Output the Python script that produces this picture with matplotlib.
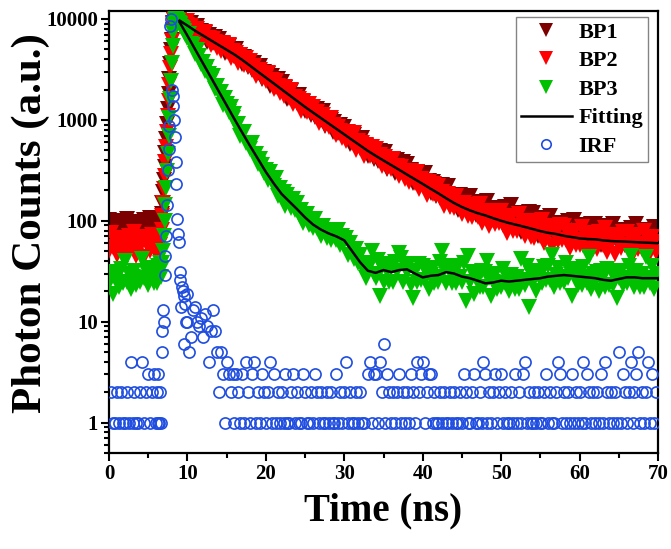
import numpy as np
import matplotlib
matplotlib.use("Agg")
import matplotlib.pyplot as plt
from matplotlib import ticker

plt.rcParams['font.family'] = ['Liberation Serif', 'DejaVu Serif']
plt.rcParams['font.weight'] = 'bold'

# Channel grid (ns): baseline 0-6 ns, finely sampled rising edge 6-10 ns, decay 10-70 ns
t_pre = np.arange(24) * 0.25
t_rise = 6.0 + np.arange(40) * 0.1
t_decay = 10.0 + np.arange(240) * 0.25
time_ns = np.concatenate([t_pre, t_rise, t_decay])

# ---- BP1 photon counts ----
bp1_pre = [103, 83, 95, 73, 90, 99, 78, 86,
           80, 105, 85, 93, 75, 97, 90, 76,
           93, 76, 101, 88, 81, 107, 73, 95]
bp1_rise = [92, 78, 101, 84, 96, 103, 99, 118, 150, 195,
            255, 340, 470, 650, 910, 1280, 1800, 2550, 3600, 4900,
            6150, 7750, 9050, 9780, 10000, 9960, 9900, 9820, 9760, 9690,
            9610, 9530, 9440, 9350, 9270, 9160, 9060, 8960, 8850, 8740]
bp1_decay = [9186, 7899, 9075, 8094, 7485, 8614, 6680, 7596,
             6881, 7276, 5904, 6952, 6476, 5797, 6594, 5626,
             6350, 5299, 5692, 4620, 5170, 5399, 4438, 4634,
             4262, 5028, 4180, 4348, 3614, 4195, 3835, 3318,
             3690, 3103, 3647, 3196, 2923, 3437, 2549, 2957,
             2620, 2833, 2156, 2695, 2447, 2115, 2518, 2039,
             2354, 1907, 2063, 1621, 1839, 1927, 1536, 1611,
             1461, 1768, 1434, 1501, 1217, 1452, 1320, 1126,
             1281, 1057, 1282, 1110, 1009, 1224, 875, 1045,
             921, 997, 760, 952, 866, 750, 896, 727,
             855, 679, 746, 572, 664, 704, 550, 583,
             526, 656, 522, 553, 440, 539, 489, 412,
             479, 390, 489, 419, 380, 476, 328, 404,
             369, 414, 299, 400, 360, 304, 384, 301,
             364, 284, 318, 239, 285, 305, 235, 252,
             225, 297, 228, 247, 189, 244, 218, 177,
             220, 171, 226, 187, 167, 221, 141, 182,
             159, 181, 128, 179, 162, 135, 178, 137,
             175, 136, 154, 114, 140, 154, 117, 128,
             116, 156, 120, 132, 102, 134, 121, 99,
             125, 94, 136, 110, 97, 143, 83, 119,
             99, 120, 77, 119, 106, 86, 123, 89,
             119, 86, 104, 71, 94, 106, 75, 87,
             76, 111, 80, 92, 67, 95, 85, 67,
             89, 67, 99, 79, 71, 103, 61, 86,
             73, 89, 57, 90, 80, 66, 94, 69,
             94, 69, 83, 57, 76, 88, 61, 70,
             63, 93, 67, 77, 57, 82, 73, 58,
             77, 58, 85, 70, 63, 93, 54, 78,
             66, 81, 52, 82, 73, 60, 86, 63]

# ---- BP2 photon counts ----
bp2_pre = [50, 75, 55, 63, 46, 67, 60, 48,
           63, 48, 71, 58, 52, 77, 45, 65,
           55, 67, 44, 69, 61, 50, 73, 53]
bp2_rise = [55, 70, 48, 62, 72, 57, 68, 82, 112, 150,
            205, 280, 385, 540, 765, 1085, 1550, 2240, 3240, 4480,
            6080, 7680, 8990, 9740, 10000, 9980, 9900, 9850, 9780, 9700,
            9600, 9520, 9420, 9300, 9220, 9100, 9010, 8890, 8800, 8700]
bp2_decay = [9469, 8053, 8495, 7057, 7717, 7977, 6724, 6946,
             6448, 7409, 6307, 6511, 5575, 6345, 5885, 5202,
             5747, 4866, 5761, 5085, 4683, 5540, 4135, 4828,
             4316, 4619, 3628, 4404, 4035, 3538, 4109, 3405,
             3844, 3185, 3396, 2737, 3042, 3157, 2579, 2676,
             2423, 2934, 2381, 2493, 2024, 2409, 2184, 1858,
             2108, 1737, 2103, 1817, 1648, 1995, 1423, 1694,
             1489, 1609, 1224, 1529, 1387, 1202, 1434, 1166,
             1347, 1094, 1186, 934, 1062, 1115, 891, 936,
             851, 1033, 839, 881, 716, 854, 777, 662,
             757, 614, 764, 653, 589, 735, 506, 620,
             539, 593, 438, 567, 511, 438, 538, 429,
             509, 406, 449, 346, 403, 430, 337, 358,
             325, 408, 326, 347, 277, 340, 308, 260,
             305, 242, 313, 265, 238, 306, 205, 258,
             223, 250, 180, 241, 217, 184, 231, 181,
             223, 169, 192, 139, 169, 184, 137, 149,
             133, 177, 137, 150, 116, 151, 136, 111,
             137, 108, 143, 121, 109, 146, 95, 124,
             108, 124, 88, 123, 111, 93, 123, 95,
             125, 91, 109, 75, 98, 111, 79, 89,
             79, 116, 84, 96, 70, 99, 87, 69,
             90, 67, 99, 80, 71, 103, 60, 86,
             72, 86, 56, 88, 77, 63, 90, 65,
             89, 64, 78, 54, 71, 80, 57, 65,
             58, 86, 62, 72, 53, 76, 67, 53,
             71, 53, 78, 64, 57, 85, 49, 70,
             60, 72, 47, 73, 66, 54, 78, 57,
             78, 57, 68, 47, 63, 72, 52, 59,
             53, 79, 57, 65, 48, 69, 62, 49]

# ---- BP3 photon counts ----
bp3_pre = [24, 30, 19, 31, 28, 22, 33, 24,
           40, 25, 30, 21, 28, 32, 23, 26,
           25, 42, 27, 32, 23, 34, 30, 24]
bp3_rise = [31, 24, 36, 27, 33, 38, 28, 34, 38, 50,
            70, 100, 145, 210, 310, 460, 690, 1050, 1600, 2450,
            3700, 5400, 7300, 8900, 9800, 10000, 9900, 9700, 9450, 9200,
            8950, 8670, 8400, 8140, 7880, 7640, 7400, 7170, 6950, 6730]
bp3_decay = [6434, 7028, 5688, 5582, 4515, 4878, 4293, 3601,
             3753, 3072, 3360, 2852, 2511, 2743, 2019, 2179,
             1860, 1910, 1409, 1654, 1438, 1197, 1342, 1052,
             1145, 898, 921, 700, 756, 755, 585, 584,
             510, 584, 461, 461, 364, 412, 360, 296,
             322, 252, 304, 251, 219, 265, 177, 211,
             179, 194, 141, 180, 161, 135, 164, 129,
             150, 117, 127, 96, 110, 116, 90, 94,
             84, 105, 84, 89, 71, 88, 79, 67,
             79, 65, 82, 71, 65, 81, 57, 70,
             61, 67, 46, 60, 52, 42, 52, 38,
             46, 35, 38, 27, 33, 37, 50, 30,
             27, 41, 18, 35, 25, 37, 32, 25,
             34, 25, 39, 32, 48, 43, 25, 37,
             31, 37, 23, 17, 32, 25, 37, 26,
             36, 26, 32, 21, 29, 34, 24, 28,
             25, 39, 50, 34, 24, 36, 31, 24,
             33, 24, 36, 28, 25, 38, 16, 45,
             25, 31, 19, 31, 27, 22, 32, 22,
             31, 40, 27, 18, 25, 30, 21, 24,
             22, 33, 24, 27, 20, 29, 26, 21,
             28, 21, 42, 26, 23, 36, 14, 30,
             25, 31, 20, 32, 29, 24, 35, 26,
             36, 26, 46, 22, 29, 34, 24, 28,
             25, 38, 27, 31, 18, 33, 29, 23,
             31, 23, 35, 28, 24, 44, 21, 30,
             25, 31, 20, 32, 28, 22, 33, 23,
             32, 23, 29, 17, 27, 32, 23, 27,
             24, 36, 45, 30, 22, 32, 28, 22,
             30, 22, 44, 27, 24, 36, 21, 30]

# ---- Instrument response function (0 = empty channel) ----
irf_pre = [0, 2, 1, 1, 2, 1, 2, 1,
           1, 2, 1, 4, 1, 2, 1, 1,
           2, 4, 1, 2, 3, 1, 2, 3]
irf_rise = [1, 2, 1, 3, 1, 2, 1, 5, 8, 13,
            10, 29, 45, 70, 143, 320, 510, 870, 8600, 10000,
            2000, 1730, 1370, 1000, 670, 385, 233, 105, 74, 62,
            31, 26, 14, 22, 20, 6, 18, 15, 10, 19]
irf_decay = [10, 5, 7, 13, 14, 10, 9, 11,
             7, 12, 9, 4, 8, 13, 8, 5,
             2, 5, 3, 1, 4, 3, 2, 3,
             1, 3, 2, 1, 3, 1, 4, 2,
             1, 3, 4, 1, 2, 1, 3, 2,
             1, 2, 4, 1, 3, 1, 2, 1,
             2, 1, 3, 1, 1, 2, 3, 1,
             2, 1, 1, 3, 2, 1, 1, 2,
             1, 3, 2, 1, 2, 1, 1, 2,
             1, 2, 1, 1, 3, 1, 2, 1,
             2, 4, 1, 2, 1, 1, 2, 1,
             2, 1, 1, 0, 3, 4, 1, 3,
             3, 1, 4, 2, 6, 1, 3, 2,
             1, 2, 1, 2, 3, 1, 2, 1,
             2, 1, 3, 2, 1, 4, 2, 3,
             4, 1, 2, 3, 3, 1, 2, 1,
             1, 2, 1, 2, 1, 1, 2, 1,
             2, 1, 1, 2, 1, 3, 2, 1,
             1, 2, 3, 1, 1, 2, 1, 4,
             3, 1, 2, 1, 2, 3, 1, 2,
             3, 1, 2, 1, 1, 2, 1, 3,
             1, 2, 1, 3, 4, 1, 2, 1,
             1, 2, 1, 2, 1, 1, 2, 3,
             1, 2, 1, 1, 2, 4, 3, 1,
             2, 1, 2, 1, 3, 1, 2, 1,
             2, 1, 4, 1, 3, 2, 1, 2,
             1, 2, 1, 3, 1, 4, 2, 1,
             2, 1, 2, 1, 5, 1, 3, 2,
             1, 2, 4, 1, 2, 3, 5, 1,
             2, 1, 2, 4, 1, 3, 1, 2]

# ---- Fitted decay curves (one point per ns, 9-70 ns) ----
fit_time = np.arange(9, 71)
fit_bp12 = [9650, 8600, 7625, 6845, 6140, 5510, 4950, 4440, 3925, 3435,
            3000, 2625, 2300, 2010, 1757, 1537, 1343, 1185, 1045, 922,
            814, 718, 633, 559, 493, 441, 396, 356, 320, 287,
            258, 232, 208, 187, 167, 150, 137, 127, 119, 113,
            106, 100, 95, 91, 87, 83, 79, 76, 74, 71,
            69, 67, 66, 65.5, 64, 63, 62.5, 62, 61.5, 61,
            60.5, 60]
fit_bp3 = [9300, 6830, 4972, 3619, 2635, 1918, 1396, 1016, 745, 550,
           410, 305, 235, 185, 155, 130, 108, 92, 82, 75,
           70, 64, 50, 39, 32, 30.5, 32.5, 31, 32.5, 33,
           30, 27.5, 28.5, 29, 31, 30, 28, 27, 25.5, 24,
           24.5, 25.5, 25, 25.5, 26, 26.5, 27, 28, 28.5, 29,
           28.5, 28, 27.5, 27, 26, 25.5, 26.5, 27.5, 27.5, 27,
           27, 27]

bp1 = np.array(bp1_pre + bp1_rise + bp1_decay, dtype=float)
bp2 = np.array(bp2_pre + bp2_rise + bp2_decay, dtype=float)
bp3 = np.array(bp3_pre + bp3_rise + bp3_decay, dtype=float)
irf = np.array(irf_pre + irf_rise + irf_decay, dtype=float)
irf[irf <= 0] = np.nan  # empty channels are not shown on a log axis

W, H = 671, 549
fig = plt.figure(figsize=(W / 100, H / 100), dpi=100)
ax = fig.add_axes([109 / W, 1 - 453 / H, 549 / W, 442 / H])
ax.set_yscale('log')

tri = dict(linestyle='none', marker='v', markersize=11.5, markeredgewidth=0)
ax.plot(time_ns, bp1, color='#7d0000', label='BP1', zorder=2, **tri)
ax.plot(time_ns, bp2, color='#ff0000', label='BP2', zorder=3, **tri)
ax.plot(time_ns, bp3, color='#00c000', label='BP3', zorder=4, **tri)
ax.plot(fit_time, fit_bp12, color='black', lw=1.8, label='Fitting', zorder=5)
ax.plot(fit_time, fit_bp3, color='black', lw=1.8, zorder=5)
ax.plot(time_ns, irf, linestyle='none', marker='o', markersize=8,
        markerfacecolor='none', markeredgecolor='#1f4de0', markeredgewidth=1.2,
        label='IRF', zorder=6)

ax.set_xlim(0, 70)
ax.set_ylim(0.5, 12000)

ax.xaxis.set_major_locator(ticker.MultipleLocator(10))
ax.xaxis.set_minor_locator(ticker.MultipleLocator(5))
ax.yaxis.set_major_locator(ticker.LogLocator(base=10, numticks=12))
ax.yaxis.set_minor_locator(ticker.LogLocator(base=10, subs=np.arange(2, 10), numticks=12))
ax.yaxis.set_major_formatter(ticker.FuncFormatter(lambda v, p: f"{v:g}"))
ax.yaxis.set_minor_formatter(ticker.NullFormatter())

ax.tick_params(which='both', direction='out', width=1.5, top=False, right=False,
               labelsize=15)
ax.tick_params(which='major', length=6, pad=2)
ax.tick_params(which='minor', length=3.5)
for s in ax.spines.values():
    s.set_linewidth(1.6)

ax.set_xlabel('Time (ns)', fontsize=28, fontweight='bold', labelpad=6)
ax.set_ylabel('Photon Counts (a.u.)', fontsize=31, fontweight='bold')
ax.yaxis.set_label_coords(-0.108, 0.52)

leg = ax.legend(loc='upper right', bbox_to_anchor=(0.982, 0.986), borderaxespad=0,
                prop={'weight': 'bold', 'size': 16}, frameon=True, fancybox=False,
                edgecolor='#666666', handlelength=2.3, handletextpad=0.3,
                labelspacing=0.36, borderpad=0.22, markerscale=0.85)
leg.get_frame().set_linewidth(1.0)

fig.savefig('out.png', dpi=100)
